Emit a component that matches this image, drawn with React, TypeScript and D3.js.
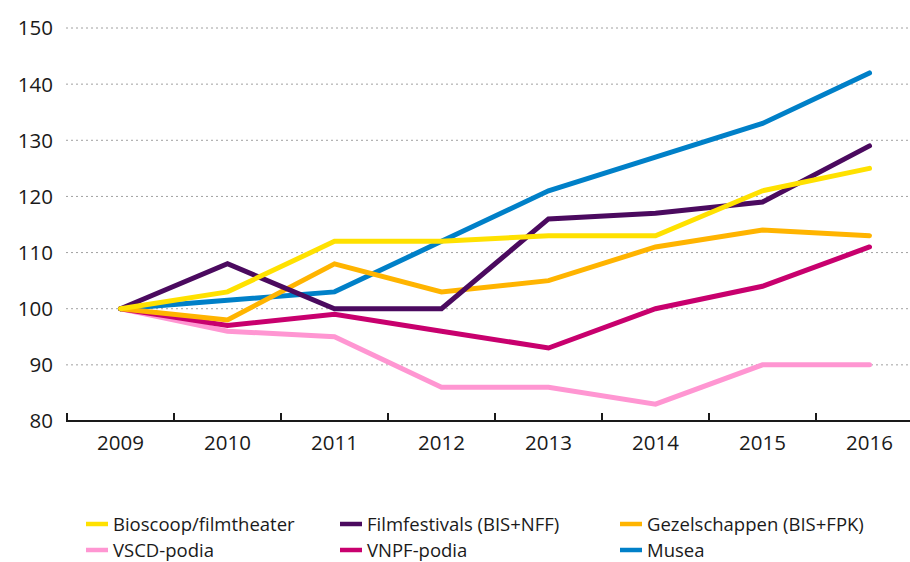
import { useEffect } from "react";
import * as d3 from "d3";

const years = ["2009", "2010", "2011", "2012", "2013", "2014", "2015", "2016"];
const bioscoop = [100, 103, 112, 112, 113, 113, 121, 125];
const filmfestivals = [100, 108, 100, 100, 116, 117, 119, 129];
const gezelschappen = [100, 98, 108, 103, 105, 111, 114, 113];
const vscd = [100, 96, 95, 86, 86, 83, 90, 90];
const vnpf = [100, 97, 99, 96, 93, 100, 104, 111];
const musea = [100, 101.5, 103, 112, 121, 127, 133, 142];
const yTicks = [80, 90, 100, 110, 120, 130, 140, 150];

const series = [
  { name: "VSCD-podia", values: vscd, color: "#ff96d2" },
  { name: "VNPF-podia", values: vnpf, color: "#c8006e" },
  { name: "Musea", values: musea, color: "#0080c8" },
  { name: "Gezelschappen (BIS+FPK)", values: gezelschappen, color: "#ffb400" },
  { name: "Filmfestivals (BIS+NFF)", values: filmfestivals, color: "#4b0a5f" },
  { name: "Bioscoop/filmtheater", values: bioscoop, color: "#ffe100" },
];

const legendOrder = [
  "Bioscoop/filmtheater",
  "Filmfestivals (BIS+NFF)",
  "Gezelschappen (BIS+FPK)",
  "VSCD-podia",
  "VNPF-podia",
  "Musea",
];

const width = 910;
const height = 562;
const font = "'Open Sans', 'Noto Sans', sans-serif";

export default function App() {
  useEffect(() => {
    document.body.style.margin = "0";
  }, []);

  const x = d3.scaleBand().domain(years).range([67, 923]);
  const y = d3.scaleLinear().domain([80, 150]).range([421, 28]);
  const line = d3
    .line<number>()
    .x((_, i) => (x(years[i]) as number) + x.bandwidth() / 2)
    .y((d) => y(d));

  return (
    <svg width={width} height={height} style={{ display: "block" }}>
      {yTicks.map((t) => (
        <g key={t}>
          {t > 80 && (
            <line
              x1={66}
              x2={width}
              y1={y(t)}
              y2={y(t)}
              stroke="#a0a0a0"
              strokeWidth={1}
              strokeDasharray="2,3"
            />
          )}
          <text
            x={53}
            y={y(t)}
            dy="0.36em"
            textAnchor="end"
            fontFamily={font}
            fontSize={20.5}
            fill="#1a1a1a"
          >
            {t}
          </text>
        </g>
      ))}

      {series.map((s) => (
        <path
          key={s.name}
          d={line(s.values) || ""}
          fill="none"
          stroke={s.color}
          strokeWidth={5}
          strokeLinejoin="miter"
          strokeLinecap="round"
        />
      ))}

      <line x1={66} x2={width} y1={421} y2={421} stroke="#1a1a1a" strokeWidth={2} />
      {years.map((yr) => (
        <g key={yr}>
          <line
            x1={x(yr) as number}
            x2={x(yr) as number}
            y1={413}
            y2={421}
            stroke="#1a1a1a"
            strokeWidth={2}
          />
          <text
            x={(x(yr) as number) + x.bandwidth() / 2}
            y={443}
            dy="0.36em"
            textAnchor="middle"
            fontFamily={font}
            fontSize={20.5}
            fill="#1a1a1a"
          >
            {yr}
          </text>
        </g>
      ))}

      {legendOrder.map((name, i) => {
        const s = series.find((d) => d.name === name)!;
        const col = i % 3;
        const row = Math.floor(i / 3);
        const lx = [86, 340, 620][col];
        const ly = 524 + row * 26;
        return (
          <g key={name}>
            <line x1={lx} x2={lx + 22} y1={ly} y2={ly} stroke={s.color} strokeWidth={4.5} />
            <text
              x={lx + 27}
              y={ly}
              dy="0.36em"
              fontFamily={font}
              fontSize={18.5}
              fill="#1a1a1a"
            >
              {name}
            </text>
          </g>
        );
      })}
    </svg>
  );
}
